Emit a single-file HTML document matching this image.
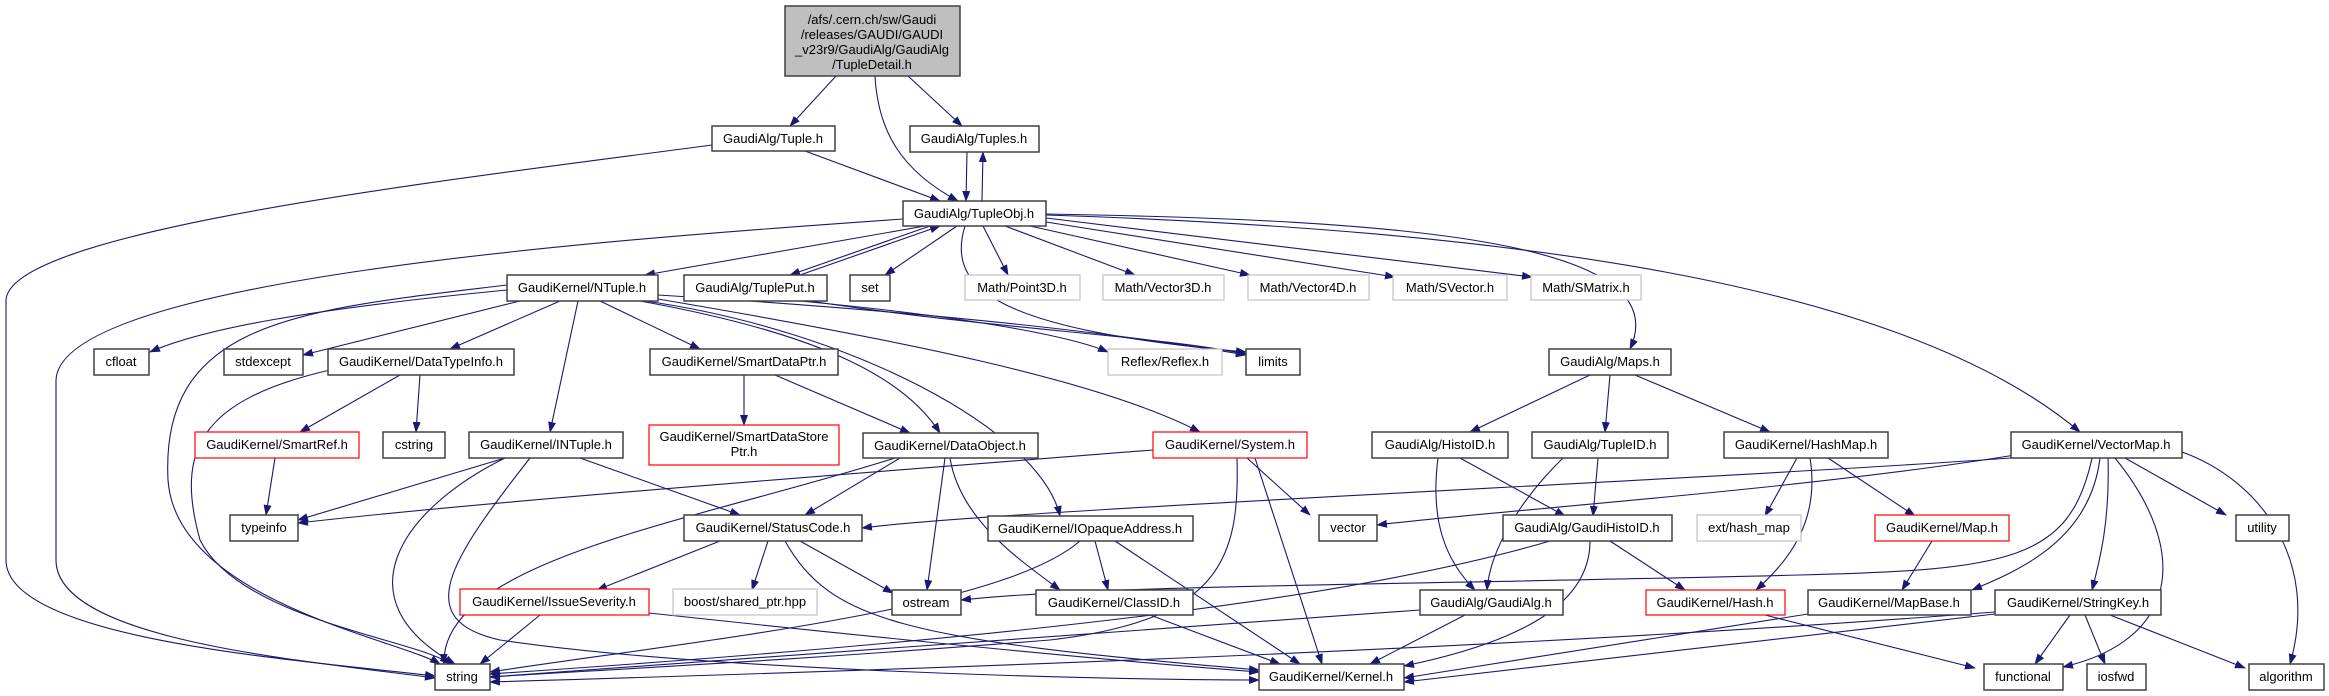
<!DOCTYPE html>
<html><head><meta charset="utf-8"><style>
html,body{margin:0;padding:0;background:#fff;}
svg{display:block;}
text{font-family:"Liberation Sans",sans-serif;font-size:13px;fill:#000;text-anchor:middle;}
.n{fill:#fff;stroke:#404040;stroke-width:1.5;}
.r{fill:#fff;stroke:#ff0000;stroke-width:1.2;}
.g{fill:#fff;stroke:#c0c0c0;stroke-width:1.2;}
.e path{fill:none;stroke:#191970;stroke-width:1.1;marker-end:url(#a);}
</style></head><body>
<svg width="2329" height="696" viewBox="0 0 2329 696" xmlns="http://www.w3.org/2000/svg">
<defs><marker id="a" markerUnits="userSpaceOnUse" markerWidth="11" markerHeight="8" refX="10" refY="4" orient="auto"><path d="M0,0 L11,4 L0,8 z" fill="#191970"/></marker></defs>
<g class="e">
<path d="M836,76 L790,126"/>
<path d="M875,76 C878,130 900,170 958,201"/>
<path d="M908,76 L962,126"/>
<path d="M805,151 L940,201"/>
<path d="M712,145 C450,180 10,230 6,300 L6,560 C6,640 300,660 435,676"/>
<path d="M967,152 L966,201"/>
<path d="M982,201 L983,152"/>
<path d="M925,226 L645,275"/>
<path d="M903,219 C600,240 60,280 56,380 L56,560 C56,640 300,660 435,678"/>
<path d="M930,226 L790,275"/>
<path d="M800,275 L940,226"/>
<path d="M957,226 L885,275"/>
<path d="M983,226 L1008,275"/>
<path d="M1005,226 L1135,275"/>
<path d="M1030,226 L1250,275"/>
<path d="M1046,222 L1395,277"/>
<path d="M1046,218 L1532,277"/>
<path d="M965,226 C945,290 1000,330 1246,352"/>
<path d="M1046,214 C1400,220 1680,240 1630,349"/>
<path d="M1046,215 C1500,230 1900,280 2080,432"/>
<path d="M507,290 C300,310 200,330 150,352"/>
<path d="M520,301 L303,355"/>
<path d="M560,301 L450,349"/>
<path d="M578,301 L550,432"/>
<path d="M600,301 L700,349"/>
<path d="M640,301 C800,330 900,370 940,433"/>
<path d="M645,301 C850,330 1040,430 1060,516"/>
<path d="M658,295 C900,310 1100,330 1246,355"/>
<path d="M658,299 C900,340 1100,380 1200,432"/>
<path d="M507,285 C300,310 160,320 168,480 C176,600 400,640 440,664"/>
<path d="M800,301 C1000,320 1080,340 1108,352"/>
<path d="M810,301 C1000,330 1150,335 1246,354"/>
<path d="M400,375 L300,432"/>
<path d="M420,375 L416,432"/>
<path d="M330,370 C200,400 175,450 200,540 C240,620 420,640 450,664"/>
<path d="M275,458 L266,515"/>
<path d="M744,375 L744,425"/>
<path d="M775,375 L910,433"/>
<path d="M505,458 L298,520"/>
<path d="M580,458 L740,515"/>
<path d="M505,458 C400,510 340,600 455,664"/>
<path d="M530,458 C450,560 410,620 500,640 C700,670 1100,680 1259,680"/>
<path d="M900,458 L805,515"/>
<path d="M945,458 L927,590"/>
<path d="M950,458 C960,520 1020,560 1060,590"/>
<path d="M895,458 C700,520 440,560 444,664"/>
<path d="M1153,450 C900,470 500,500 298,523"/>
<path d="M1247,458 L1310,515"/>
<path d="M1237,458 C1240,560 1220,620 1050,640 C800,660 600,670 490,677"/>
<path d="M1255,458 L1322,664"/>
<path d="M1095,541 L1108,590"/>
<path d="M1080,541 C1000,610 700,640 490,672"/>
<path d="M1115,541 L1300,664"/>
<path d="M720,541 L597,590"/>
<path d="M768,541 L752,590"/>
<path d="M800,541 L893,593"/>
<path d="M785,541 C830,620 900,640 1259,670"/>
<path d="M540,615 L480,664"/>
<path d="M649,613 C900,640 1100,660 1259,672"/>
<path d="M1150,615 L1280,664"/>
<path d="M1590,375 L1470,432"/>
<path d="M1610,375 L1605,432"/>
<path d="M1635,375 L1770,432"/>
<path d="M1460,458 L1565,516"/>
<path d="M1438,458 C1430,520 1445,560 1475,590"/>
<path d="M1598,458 L1593,516"/>
<path d="M1563,458 C1520,500 1490,550 1487,590"/>
<path d="M1610,541 L1685,590"/>
<path d="M1590,541 C1590,600 1530,640 1404,666"/>
<path d="M1550,541 C1350,600 1000,640 490,674"/>
<path d="M1797,458 L1765,516"/>
<path d="M1810,458 C1820,520 1790,560 1756,590"/>
<path d="M1828,458 L1915,516"/>
<path d="M1932,541 L1902,590"/>
<path d="M2011,458 C1700,480 1000,510 862,528"/>
<path d="M2015,455 C1800,490 1500,510 1377,525"/>
<path d="M2092,458 C2070,560 2010,570 1800,575 C1400,585 1100,585 961,600"/>
<path d="M2100,458 C2090,540 2020,570 1972,590"/>
<path d="M2108,458 C2110,520 2100,560 2092,590"/>
<path d="M2115,458 C2190,550 2180,640 2063,667"/>
<path d="M2125,458 L2226,515"/>
<path d="M2182,452 C2260,480 2320,560 2290,664"/>
<path d="M1420,610 C1000,640 700,660 490,677"/>
<path d="M1465,615 L1370,664"/>
<path d="M1765,615 L1975,668"/>
<path d="M1808,614 L1404,678"/>
<path d="M1995,614 L1404,682"/>
<path d="M1995,612 C1500,650 900,670 490,682"/>
<path d="M2070,615 L2035,664"/>
<path d="M2085,615 L2105,664"/>
<path d="M2110,615 L2245,668"/>
</g>
<rect x="785" y="6" width="175" height="70" fill="#bfbfbf" stroke="#404040" stroke-width="1.5"/>
<text x="872" y="24">/afs/.cern.ch/sw/Gaudi</text>
<text x="872" y="39">/releases/GAUDI/GAUDI</text>
<text x="872" y="54">_v23r9/GaudiAlg/GaudiAlg</text>
<text x="872" y="69">/TupleDetail.h</text>
<g>
<rect class="n" x="712" y="126" width="123" height="25"/><text x="773" y="143">GaudiAlg/Tuple.h</text>
<rect class="n" x="910" y="126" width="129" height="26"/><text x="974" y="143">GaudiAlg/Tuples.h</text>
<rect class="n" x="903" y="201" width="143" height="25"/><text x="974" y="218">GaudiAlg/TupleObj.h</text>
<rect class="n" x="507" y="275" width="151" height="26"/><text x="582" y="292">GaudiKernel/NTuple.h</text>
<rect class="n" x="684" y="275" width="143" height="26"/><text x="755" y="292">GaudiAlg/TuplePut.h</text>
<rect class="n" x="850" y="275" width="40" height="26"/><text x="870" y="292">set</text>
<rect class="g" x="965" y="275" width="115" height="25"/><text x="1022" y="292">Math/Point3D.h</text>
<rect class="g" x="1103" y="275" width="121" height="25"/><text x="1163" y="292">Math/Vector3D.h</text>
<rect class="g" x="1248" y="275" width="121" height="25"/><text x="1308" y="292">Math/Vector4D.h</text>
<rect class="g" x="1393" y="275" width="114" height="25"/><text x="1450" y="292">Math/SVector.h</text>
<rect class="g" x="1531" y="275" width="110" height="25"/><text x="1586" y="292">Math/SMatrix.h</text>
<rect class="n" x="94" y="349" width="55" height="26"/><text x="121" y="366">cfloat</text>
<rect class="n" x="224" y="349" width="79" height="26"/><text x="263" y="366">stdexcept</text>
<rect class="n" x="328" y="349" width="186" height="26"/><text x="421" y="366">GaudiKernel/DataTypeInfo.h</text>
<rect class="n" x="650" y="349" width="188" height="26"/><text x="744" y="366">GaudiKernel/SmartDataPtr.h</text>
<rect class="g" x="1108" y="349" width="114" height="26"/><text x="1165" y="366">Reflex/Reflex.h</text>
<rect class="n" x="1246" y="349" width="54" height="26"/><text x="1273" y="366">limits</text>
<rect class="n" x="1549" y="349" width="122" height="26"/><text x="1610" y="366">GaudiAlg/Maps.h</text>
<rect class="r" x="195" y="432" width="164" height="26"/><text x="277" y="449">GaudiKernel/SmartRef.h</text>
<rect class="n" x="383" y="432" width="62" height="26"/><text x="414" y="449">cstring</text>
<rect class="n" x="469" y="432" width="154" height="26"/><text x="546" y="449">GaudiKernel/INTuple.h</text>
<rect class="r" x="649" y="425" width="190" height="40"/><text x="744" y="441">GaudiKernel/SmartDataStore</text><text x="744" y="456">Ptr.h</text>
<rect class="n" x="863" y="433" width="175" height="25"/><text x="950" y="450">GaudiKernel/DataObject.h</text>
<rect class="r" x="1153" y="432" width="154" height="26"/><text x="1230" y="449">GaudiKernel/System.h</text>
<rect class="n" x="1372" y="432" width="136" height="26"/><text x="1440" y="449">GaudiAlg/HistoID.h</text>
<rect class="n" x="1532" y="432" width="136" height="26"/><text x="1600" y="449">GaudiAlg/TupleID.h</text>
<rect class="n" x="1724" y="432" width="164" height="26"/><text x="1806" y="449">GaudiKernel/HashMap.h</text>
<rect class="n" x="2011" y="432" width="171" height="26"/><text x="2096" y="449">GaudiKernel/VectorMap.h</text>
<rect class="n" x="230" y="515" width="68" height="26"/><text x="264" y="532">typeinfo</text>
<rect class="n" x="684" y="515" width="178" height="26"/><text x="773" y="532">GaudiKernel/StatusCode.h</text>
<rect class="n" x="988" y="516" width="205" height="25"/><text x="1090" y="533">GaudiKernel/IOpaqueAddress.h</text>
<rect class="n" x="1319" y="515" width="58" height="26"/><text x="1348" y="532">vector</text>
<rect class="n" x="1503" y="515" width="169" height="26"/><text x="1587" y="532">GaudiAlg/GaudiHistoID.h</text>
<rect class="g" x="1697" y="515" width="104" height="26"/><text x="1749" y="532">ext/hash_map</text>
<rect class="r" x="1875" y="515" width="134" height="26"/><text x="1942" y="532">GaudiKernel/Map.h</text>
<rect class="n" x="2236" y="515" width="53" height="26"/><text x="2262" y="532">utility</text>
<rect class="r" x="460" y="589" width="189" height="26"/><text x="554" y="606">GaudiKernel/IssueSeverity.h</text>
<rect class="g" x="673" y="589" width="144" height="26"/><text x="745" y="606">boost/shared_ptr.hpp</text>
<rect class="n" x="892" y="590" width="69" height="25"/><text x="926" y="607">ostream</text>
<rect class="n" x="1036" y="590" width="157" height="25"/><text x="1114" y="607">GaudiKernel/ClassID.h</text>
<rect class="n" x="1420" y="590" width="143" height="25"/><text x="1491" y="607">GaudiAlg/GaudiAlg.h</text>
<rect class="r" x="1646" y="590" width="139" height="25"/><text x="1715" y="607">GaudiKernel/Hash.h</text>
<rect class="n" x="1808" y="590" width="163" height="25"/><text x="1889" y="607">GaudiKernel/MapBase.h</text>
<rect class="n" x="1995" y="590" width="166" height="25"/><text x="2078" y="607">GaudiKernel/StringKey.h</text>
<rect class="n" x="435" y="664" width="55" height="26"/><text x="462" y="681">string</text>
<rect class="n" x="1259" y="664" width="145" height="26"/><text x="1331" y="681">GaudiKernel/Kernel.h</text>
<rect class="n" x="1984" y="664" width="79" height="26"/><text x="2023" y="681">functional</text>
<rect class="n" x="2087" y="664" width="59" height="26"/><text x="2116" y="681">iosfwd</text>
<rect class="n" x="2249" y="664" width="75" height="26"/><text x="2286" y="681">algorithm</text>
</g>
</svg>
</body></html>
